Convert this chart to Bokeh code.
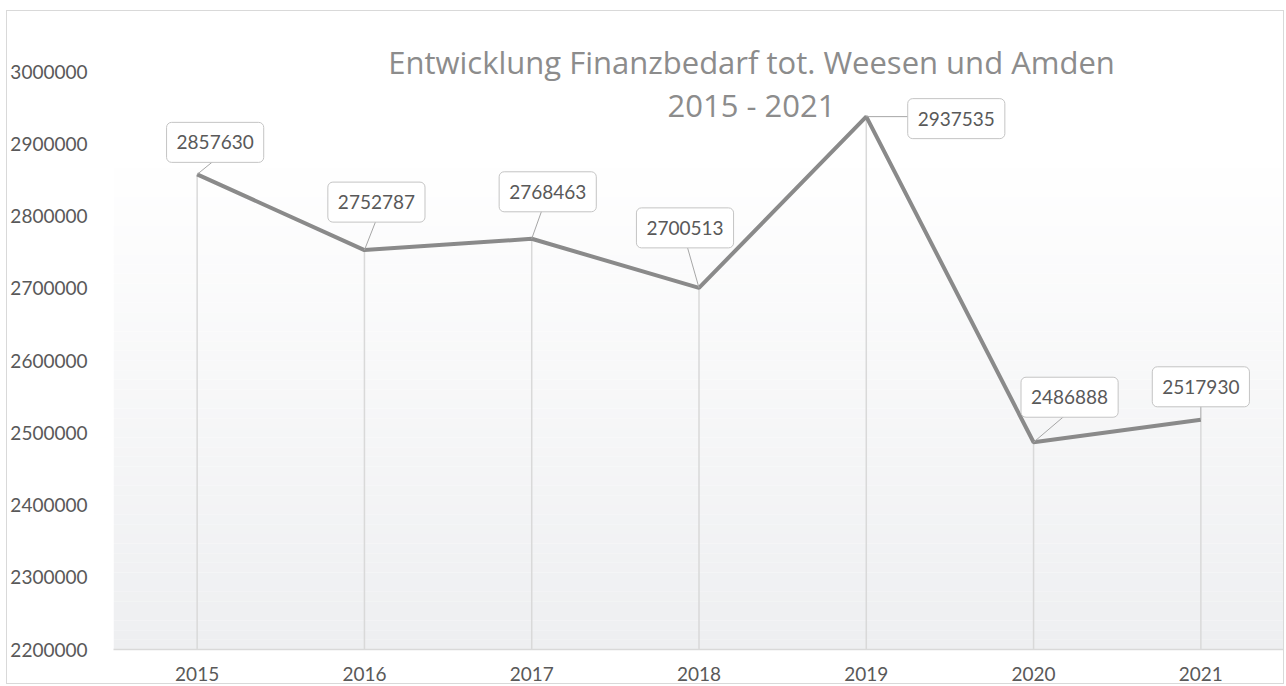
from bokeh.plotting import figure
from bokeh.models import Range1d, FixedTicker, Label
from bokeh.embed import file_html
from bokeh.resources import INLINE

# ---- data ----
years = [2015, 2016, 2017, 2018, 2019, 2020, 2021]
values = [2857630, 2752787, 2768463, 2700513, 2937535, 2486888, 2517930]
y_ticks = [2200000, 2300000, 2400000, 2500000, 2600000, 2700000, 2800000, 2900000, 3000000]
title_line1 = "Entwicklung Finanzbedarf tot. Weesen und Amden"
title_line2 = "2015 - 2021"

# ---- label placement (screen px offsets from each point) ----
label_dx = [18, 12, 16, -14, 90, 36, 0]
label_dy = [32, 48, 47, 60, -2, 45, 33]
leader_dx = [16, 11, 10, -12, 42, 33, 0]
leader_dy = [13, 28, 28, 42, 0, 28, 15]

FONT = "Lato"
TFONT = "Open Sans"
TXT = "#595959"

W, H = 1278, 674
left_b, right_b, top_b, bottom_b = 103, 1, 0, 36
frame_w = W - left_b - right_b
frame_h = H - top_b - bottom_b
x0, x1 = 2014.5, 2021.5
y0 = 2200000
# 3000000 should sit 578 px above the baseline
px_per_unit = 578 / 800000
y1 = y0 + frame_h / px_per_unit
px_per_year = frame_w / (x1 - x0)

p = figure(width=W, height=H, output_backend="svg", toolbar_location=None,
           x_range=Range1d(x0, x1), y_range=Range1d(y0, y1),
           min_border_left=left_b, min_border_right=right_b,
           min_border_top=top_b, min_border_bottom=bottom_b,
           margin=(10, 0, 0, 6),
           styles={"border": "1px solid #d9d9d9"})
p.outline_line_color = None
p.grid.grid_line_color = None
p.background_fill_color = "white"
p.border_fill_color = "white"

# background gradient (white top -> light grey bottom)
n = 60
step = (3000000 - y0) / n
bottoms, tops, cols = [], [], []
for i in range(n):
    b = y0 + i * step
    t = b + step
    f = i / (n - 1)  # 0 bottom, 1 top
    f = min(1.0, f * 1.15)
    r = int(round(238 + (255 - 238) * f))
    g = int(round(239 + (255 - 239) * f))
    bl = int(round(241 + (255 - 241) * f))
    bottoms.append(b); tops.append(t); cols.append("#%02x%02x%02x" % (r, g, bl))
p.quad(left=x0, right=x1, bottom=bottoms, top=tops, fill_color=cols, line_color=None)

# drop lines
p.segment(x0=years, y0=[y0] * len(years), x1=years, y1=values,
          line_color="#d9d9d9", line_width=1.5)

# main line
p.line(years, values, line_color="#8a8a8a", line_width=4)

# leader lines
lx = [yr + dx / px_per_year for yr, dx in zip(years, leader_dx)]
ly = [v + dy / px_per_unit for v, dy in zip(values, leader_dy)]
p.segment(x0=years, y0=values, x1=lx, y1=ly, line_color="#a6a6a6", line_width=1)

# data labels
for yr, v, dx, dy in zip(years, values, label_dx, label_dy):
    p.add_layout(Label(x=yr, y=v, x_offset=dx, y_offset=dy, text=str(v),
                       text_align="center", text_baseline="middle",
                       text_font=FONT, text_font_size="19px", text_color=TXT,
                       background_fill_color="white",
                       border_line_color="#c4c4c4", border_line_width=1,
                       border_radius=5,
                       padding=dict(left=10, right=10, top=13, bottom=13)))

# title (screen units are relative to the plot frame's bottom-left)
p.add_layout(Label(x=638, y=588, x_units="screen", y_units="screen",
                   text=title_line1, text_align="center", text_baseline="middle",
                   text_font=TFONT, text_font_size="31px", text_color="#8c8c8c"))
p.add_layout(Label(x=638, y=545, x_units="screen", y_units="screen",
                   text=title_line2, text_align="center", text_baseline="middle",
                   text_font=TFONT, text_font_size="31px", text_color="#8c8c8c"))

# axes
p.xaxis.ticker = FixedTicker(ticks=years)
p.yaxis.ticker = FixedTicker(ticks=y_ticks)
p.yaxis.formatter.use_scientific = False
for ax in (p.xaxis[0], p.yaxis[0]):
    ax.major_tick_line_color = None
    ax.minor_tick_line_color = None
    ax.major_label_text_font = FONT
    ax.major_label_text_font_size = "19px"
    ax.major_label_text_color = TXT
p.xaxis.axis_line_color = "#d9d9d9"
p.xaxis.axis_line_width = 1.5
p.yaxis.axis_line_color = None
p.yaxis.major_label_standoff = 20
p.xaxis.major_label_standoff = 11

open("out.html", "w").write(file_html(p, INLINE))
